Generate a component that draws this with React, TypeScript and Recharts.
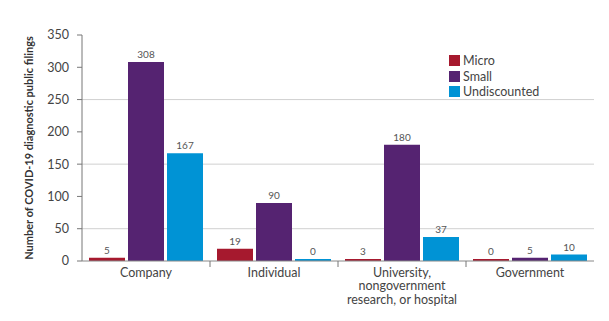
import { BarChart, Bar, XAxis, YAxis, CartesianGrid, LabelList } from "recharts"

const categories = ["Company", "Individual", "University,\nnongovernment\nresearch, or hospital", "Government"]
const micro = [5, 19, 3, 0]
const small = [308, 90, 180, 5]
const undiscounted = [167, 0, 37, 10]
const yTicks = [0, 50, 100, 150, 200, 250, 300, 350]
const gridValues = [50, 150, 250]

const chartData = categories.map((name, i) => ({
  name,
  micro: micro[i],
  small: small[i],
  undiscounted: undiscounted[i],
}))

const series = [
  { key: "micro", label: "Micro", color: "#a6192e" },
  { key: "small", label: "Small", color: "#552371" },
  { key: "undiscounted", label: "Undiscounted", color: "#0093d5" },
]

const font = "Lato, 'Open Sans', sans-serif"

function CategoryTick(props: any) {
  const { x, y, payload, index } = props
  const lines = String(payload.value).split("\n")
  return (
    <g>
      {index < categories.length - 1 && (
        <line x1={x + payload.offset} x2={x + payload.offset} y1={y - 5} y2={y + 1} stroke="#777" />
      )}
      <text x={x} y={y} textAnchor="middle" fill="#444" fontSize={12.5} fontFamily={font}>
        {lines.map((l, i) => (
          <tspan key={i} x={x} dy={i === 0 ? "0.85em" : 13.5}>
            {l}
          </tspan>
        ))}
      </text>
    </g>
  )
}

// legend drawn as an overlay so it doesn't eat into the plot area
function LegendBox() {
  return (
    <div style={{ position: "absolute", left: 449, top: 53, fontFamily: font, fontSize: 12.5, color: "#444" }}>
      {series.map((s) => (
        <div key={s.key} style={{ display: "flex", alignItems: "center", height: 15.5 }}>
          <span style={{ width: 11, height: 11, background: s.color, marginRight: 3, display: "inline-block" }} />
          {s.label}
        </div>
      ))}
    </div>
  )
}

export default function App() {
  return (
    <div style={{ position: "absolute", left: 0, top: 0, width: 609, height: 321, background: "#fff" }}>
      <BarChart
        width={609}
        height={321}
        data={chartData}
        margin={{ top: 35, right: 15, bottom: 0, left: 0 }}
        barCategoryGap={7}
        barGap={3}
      >
        <CartesianGrid vertical={false} horizontalValues={gridValues} stroke="#d0d0d0" />
        <XAxis
          dataKey="name"
          interval={0}
          tickLine={false}
          tickSize={0}
          tickMargin={5}
          height={60}
          axisLine={{ stroke: "#888" }}
          tick={<CategoryTick />}
        />
        <YAxis
          width={82}
          domain={[0, 350]}
          ticks={yTicks}
          interval={0}
          tickSize={5}
          tickMargin={8}
          axisLine={{ stroke: "#777" }}
          tickLine={{ stroke: "#777" }}
          tick={{ fill: "#444", fontSize: 12.5, fontFamily: font }}
          label={{
            value: "Number of COVID-19 diagnostic public filings",
            angle: -90,
            position: "insideLeft",
            offset: 29,
            style: { textAnchor: "middle", fill: "#333", fontSize: 11, fontWeight: 700, fontFamily: font },
          }}
        />
        {series.map((s) => (
          <Bar key={s.key} dataKey={s.key} name={s.label} fill={s.color} minPointSize={2} isAnimationActive={false}>
            <LabelList dataKey={s.key} position="top" offset={4} fill="#555" fontSize={10} fontFamily={font} />
          </Bar>
        ))}
      </BarChart>
      <LegendBox />
    </div>
  )
}
